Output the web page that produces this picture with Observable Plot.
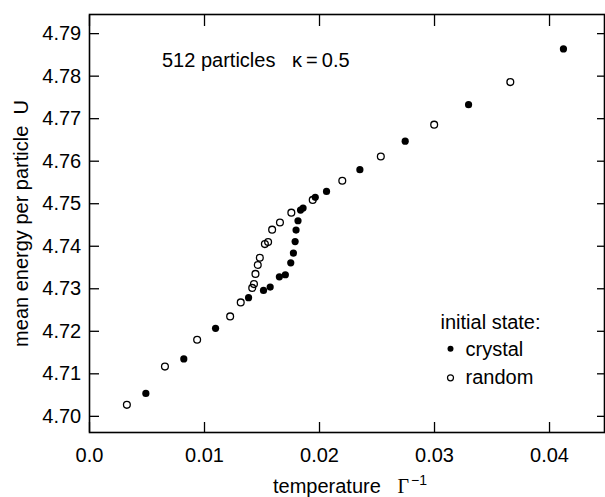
<!DOCTYPE html>
<html><head><meta charset="utf-8">
<script src="https://cdn.jsdelivr.net/npm/d3@7"></script>
<script src="https://cdn.jsdelivr.net/npm/@observablehq/plot@0.6"></script>
<style>
html,body{margin:0;padding:0;background:#fff;}
#chart svg{display:block;}
</style></head><body><div id="chart"></div>
<script>
// ---- data ----
const crystalX = [0.0049, 0.0082, 0.01096, 0.01383, 0.01513, 0.01571, 0.01651, 0.01703, 0.0175, 0.01773, 0.01788, 0.01796, 0.01813, 0.01835, 0.01857, 0.01963, 0.02061, 0.02351, 0.02745, 0.03296, 0.04121];
const crystalU = [4.7054, 4.7135, 4.7207, 4.7279, 4.7296, 4.7304, 4.7328, 4.7333, 4.7361, 4.7384, 4.7411, 4.7438, 4.7460, 4.7485, 4.7490, 4.7515, 4.7529, 4.7580, 4.7647, 4.7733, 4.7864];
const randomX = [0.00325, 0.00656, 0.00936, 0.01223, 0.01315, 0.01415, 0.0143, 0.01443, 0.01463, 0.01481, 0.01525, 0.01553, 0.01588, 0.01656, 0.01755, 0.01941, 0.02198, 0.02533, 0.02997, 0.03659];
const randomU = [4.7027, 4.7117, 4.7180, 4.7235, 4.7268, 4.7302, 4.7311, 4.7335, 4.7356, 4.7373, 4.7405, 4.7410, 4.7439, 4.7456, 4.7479, 4.7509, 4.7554, 4.7611, 4.7686, 4.7786];
const xTicks = [0, 0.01, 0.02, 0.03, 0.04];
const xTickLabels = ["0.0", "0.01", "0.02", "0.03", "0.04"];
const yTicks = [4.70, 4.71, 4.72, 4.73, 4.74, 4.75, 4.76, 4.77, 4.78, 4.79];
const yTickLabels = ["4.70", "4.71", "4.72", "4.73", "4.74", "4.75", "4.76", "4.77", "4.78", "4.79"];
const seriesNames = ["crystal", "random"];
const legendTitle = "initial state:";
const annotation = "512 particles\u00a0\u00a0\u00a0\u03ba\u2009=\u20090.5";
const xLabel = "temperature\u00a0\u00a0\u00a0";
const xLabelSymbol = "\u0393";
const xLabelSup = "\u22121";
const yLabel = "mean energy per particle\u00a0\u00a0U";

// ---- tables ----
const crystal = crystalX.map((x, i) => ({x, u: crystalU[i]}));
const random = randomX.map((x, i) => ({x, u: randomU[i]}));

const fmtX = d => xTickLabels[xTicks.indexOf(d)];
const fmtY = d => yTickLabels[yTicks.indexOf(d)];

const chart = Plot.plot({
  width: 605,
  height: 497,
  marginLeft: 89,
  marginRight: 1,
  marginTop: 14,
  marginBottom: 65,
  style: {fontFamily: "'Liberation Sans', Arial, Helvetica, sans-serif", fontSize: "20px", background: "#fff", color: "#000", overflow: "visible"},
  x: {domain: [0, 0.04478]},
  y: {domain: [4.6962, 4.7945]},
  marks: [
    Plot.axisX({ticks: xTicks, anchor: "bottom", tickSize: -10, tickPadding: 25.5, tickFormat: fmtX, label: null, strokeWidth: 1.3, fontSize: 20}),
    Plot.axisX({ticks: xTicks, anchor: "top", tickSize: -11, tickFormat: () => "", label: null, strokeWidth: 1.3}),
    Plot.axisY({ticks: yTicks, anchor: "left", tickSize: -10, tickPadding: 18.3, tickFormat: fmtY, label: null, strokeWidth: 1.3, fontSize: 20}),
    Plot.axisY({ticks: yTicks, anchor: "right", tickSize: -8, tickFormat: () => "", label: null, strokeWidth: 1.3}),
    Plot.frame({stroke: "#000", strokeWidth: 1.6}),
    Plot.dot(random, {x: "x", y: "u", r: 3.4, fill: "none", stroke: "#000", strokeWidth: 1.3}),
    Plot.dot(crystal, {x: "x", y: "u", r: 3.6, fill: "#000", stroke: "none"}),
    Plot.text([annotation], {text: d => d, frameAnchor: "top-left", dx: 72.5, dy: 52.7, textAnchor: "start", lineAnchor: "bottom", fontSize: 20}),
    Plot.text([legendTitle], {text: d => d, frameAnchor: "top-left", dx: 351, dy: 314.3, textAnchor: "start", lineAnchor: "bottom", fontSize: 20}),
    Plot.dot([seriesNames[0]], {frameAnchor: "top-left", dx: 361, dy: 334.3, r: 3, fill: "#000"}),
    Plot.text([seriesNames[0]], {text: d => d, frameAnchor: "top-left", dx: 376, dy: 341, textAnchor: "start", lineAnchor: "bottom", fontSize: 20}),
    Plot.dot([seriesNames[1]], {frameAnchor: "top-left", dx: 361, dy: 363.3, r: 3, fill: "none", stroke: "#000", strokeWidth: 1.2}),
    Plot.text([seriesNames[1]], {text: d => d, frameAnchor: "top-left", dx: 376, dy: 369.3, textAnchor: "start", lineAnchor: "bottom", fontSize: 20}),
    Plot.text([yLabel], {text: d => d, frameAnchor: "left", dx: -62, rotate: -90, textAnchor: "middle", lineAnchor: "bottom", fontSize: 20}),
    Plot.text([xLabel], {text: d => d, frameAnchor: "bottom", dy: 60, dx: 3, textAnchor: "middle", lineAnchor: "bottom", fontSize: 20})
  ]
});

// add Γ and superscript to the x label
const ns = "http://www.w3.org/2000/svg";
chart.querySelectorAll("text").forEach(t => {
  if (t.textContent === xLabel) {
    const g = document.createElementNS(ns, "tspan");
    g.setAttribute("font-family", "'Liberation Serif', 'DejaVu Serif', serif");
    g.textContent = xLabelSymbol;
    t.appendChild(g);
    const s = document.createElementNS(ns, "tspan");
    s.setAttribute("dy", "-0.55em");
    s.setAttribute("dx", "2");
    s.setAttribute("font-size", "14px");
    s.textContent = xLabelSup;
    t.appendChild(s);
  }
});

document.getElementById("chart").appendChild(chart);
</script>
</body></html>
